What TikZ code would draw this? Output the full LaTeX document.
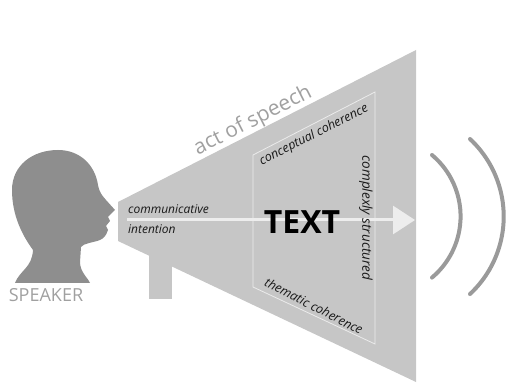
\documentclass[tikz,border=0pt]{standalone}
\usepackage{fontspec}
\setmainfont{Open Sans}
\usepackage{tikz}
\usetikzlibrary{arrows.meta}
\definecolor{conegray}{HTML}{C6C6C6}
\definecolor{headgray}{HTML}{8E8E8E}
\definecolor{wavegray}{HTML}{9A9A9A}
\definecolor{labelgray}{HTML}{A0A0A0}
\tikzset{>={Triangle[length=22pt,width=28pt]}}
\tikzset{
  wave/.style={draw=wavegray, line width=4pt, line cap=round},
  smalllabel/.style={font=\fontsize{12.5}{14}\selectfont\itshape, text=black!90, inner sep=0pt},
  panel/.style={draw=white!92!black, line width=0.8pt}
}
\begin{document}
\begin{tikzpicture}[x=1pt, y=-1pt]
      \useasboundingbox (0,0) rectangle (523,385);
      \fill[conegray] (149,240) rectangle (172,299);
      \fill[conegray] (118,202) -- (416,50) -- (416,382) -- (118,241) -- cycle;
      \draw[panel] (253,155) -- (375,92) -- (375,344) -- (253,287) -- cycle;
      \fill[headgray] (15,283) .. controls (20,270) and (32,268) .. (33,250)
          .. controls (22,235) and (12,215) .. (12,190)
          .. controls (12,165) and (33,150) .. (58,150)
          .. controls (80,150) and (95,165) .. (98,185)
          .. controls (100,195) and (104,197) .. (106,200)
          -- (115,210) -- (108,217) -- (110,221) -- (106,226) -- (108,230)
          .. controls (106,236) and (104,238) .. (100,240)
          .. controls (92,243) and (84,243) .. (81,247)
          -- (80,262)
          .. controls (80,272) and (88,278) .. (90,283) -- cycle;
      \coordinate (mouth) at (127,220);
      \coordinate (tip) at (415,220);
      \draw[->, white!93!black, line width=3pt] (mouth) -- (tip);
      \node (speaker) at (46,295) [text=labelgray, font=\fontsize{18}{20}\selectfont] {SPEAKER};
      \node (act) at (253,121) [rotate=27, text=labelgray, font=\fontsize{21}{23}\selectfont] {act of speech};
      \node (comm) at (128,214) [smalllabel, font=\fontsize{12}{14}\selectfont\itshape, anchor=base west] {communicative};
      \node (intent) at (128,234) [smalllabel, font=\fontsize{12}{14}\selectfont\itshape, anchor=base west] {intention};
      \node (text) at (302,222) [font=\fontsize{32}{34}\selectfont\bfseries] {TEXT};
      \node (concept) at (314,135) [smalllabel, rotate=27] {conceptual coherence};
      \node (complex) at (366,218) [smalllabel, font=\fontsize{13.5}{15}\selectfont\itshape, rotate=-90] {complexly structured};
      \node (theme) at (314,306) [smalllabel, rotate=-27] {thematic coherence};
      \draw[wave] (432,155) arc[start angle=-50, end angle=50, radius=80] coordinate (waveinner);
      \draw[wave] (470,139) arc[start angle=-47, end angle=47, radius=106] coordinate (waveouter);
    \end{tikzpicture}
\end{document}
